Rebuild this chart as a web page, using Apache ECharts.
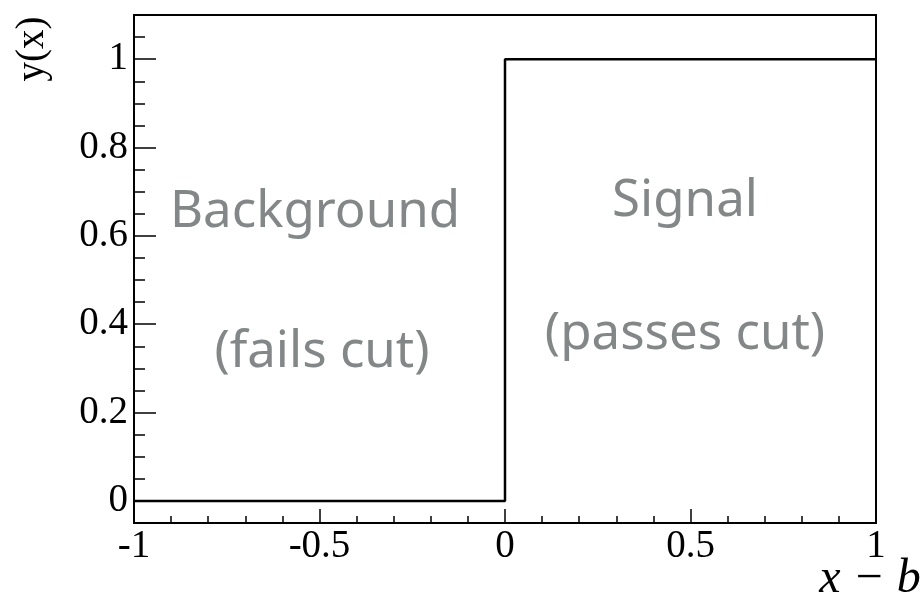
<!DOCTYPE html>
<html>
<head>
<meta charset="utf-8">
<script src="https://cdn.jsdelivr.net/npm/echarts@6/dist/echarts.min.js"></script>
<style>
html,body{margin:0;padding:0;background:#fff;}
#chart{width:924px;height:593px;}
</style>
</head>
<body>
<div id="chart"></div>
<script>
// step function y(x): 0 for x<0, 1 for x>=0
const stepX = [-1, 0, 0, 1];
const stepY = [0, 0, 1, 1];
const yMajorTicks = [0, 0.2, 0.4, 0.6, 0.8, 1];
const yMinorTicks = [0.05, 0.1, 0.15, 0.25, 0.3, 0.35, 0.45, 0.5, 0.55, 0.65, 0.7, 0.75, 0.85, 0.9, 0.95, 1.05];
const xRange = [-1, 1];
const yRange = [-0.05, 1.1];
const xInterval = 0.5;
const annotations = ['Background', '(fails cut)', 'Signal', '(passes cut)'];
const yTitle = 'y(x)';
const xTitle = 'x \u2212 b';

const chart = echarts.init(document.getElementById('chart'));
const serif = 'Liberation Serif, Times New Roman, serif';
const annFont = 'Noto Sans, Lato, sans-serif';
const annColor = '#838787';

chart.setOption({
  animation: false,
  backgroundColor: '#fff',
  grid: {left: 134, top: 15, right: 48, bottom: 70, show: true, borderColor: '#000', borderWidth: 2, backgroundColor: 'transparent'},
  xAxis: {
    type: 'value', min: xRange[0], max: xRange[1], interval: xInterval,
    axisLine: {show: true, onZero: false, lineStyle: {color: '#000', width: 2}},
    axisTick: {show: true, inside: true, length: 14, lineStyle: {color: '#000', width: 1.5}},
    minorTick: {show: true, splitNumber: 5, length: 7, lineStyle: {color: '#000', width: 1.5}},
    splitLine: {show: false},
    axisLabel: {color: '#000', fontFamily: serif, fontSize: 39, margin: 4}
  },
  yAxis: [{
    type: 'value', min: yRange[0], max: yRange[1],
    axisLine: {show: true, onZero: false, lineStyle: {color: '#000', width: 2}},
    axisTick: {show: true, inside: true, length: 22, customValues: yMajorTicks, lineStyle: {color: '#000', width: 1.5}},
    splitLine: {show: false},
    axisLabel: {color: '#000', fontFamily: serif, fontSize: 39, margin: 6, customValues: yMajorTicks}
  }, {
    type: 'value', min: yRange[0], max: yRange[1], position: 'left',
    axisLine: {show: false, onZero: false},
    axisTick: {show: true, inside: true, length: 11, customValues: yMinorTicks, lineStyle: {color: '#000', width: 1.5}},
    splitLine: {show: false},
    axisLabel: {show: false}
  }],
  series: [{
    type: 'line',
    data: stepX.map((x, i) => [x, stepY[i]]),
    showSymbol: false,
    symbol: 'none',
    lineStyle: {color: '#000', width: 2.5},
    silent: true
  }],
  graphic: [
    {type: 'text', x: 315, y: 212, style: {text: annotations[0], font: 'normal 51px ' + annFont, fill: annColor, align: 'center', verticalAlign: 'middle'}},
    {type: 'text', x: 322, y: 352, style: {text: annotations[1], font: 'normal 51px ' + annFont, fill: annColor, align: 'center', verticalAlign: 'middle'}},
    {type: 'text', x: 685, y: 201, style: {text: annotations[2], font: 'normal 51px ' + annFont, fill: annColor, align: 'center', verticalAlign: 'middle'}},
    {type: 'text', x: 685, y: 334, style: {text: annotations[3], font: 'normal 51px ' + annFont, fill: annColor, align: 'center', verticalAlign: 'middle'}},
    {type: 'text', x: 33, y: 49, rotation: Math.PI / 2, style: {text: yTitle, font: 'normal 39px ' + serif, fill: '#000', align: 'center', verticalAlign: 'middle'}},
    {type: 'text', x: 870, y: 579, style: {text: xTitle, font: 'italic 48px ' + serif, fill: '#000', align: 'center', verticalAlign: 'middle'}}
  ]
});
</script>
</body>
</html>
